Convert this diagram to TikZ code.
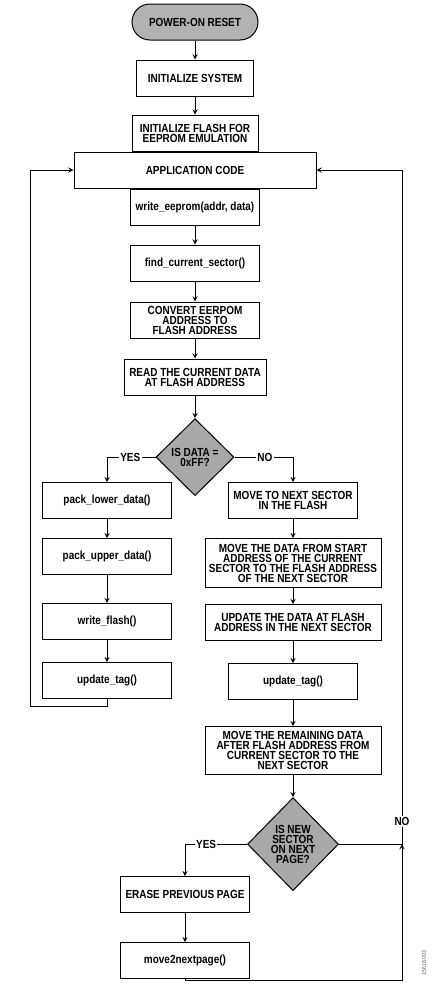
\documentclass[tikz,border=0pt]{standalone}
\usepackage{fontspec}
\setmainfont{Liberation Sans}[FakeStretch=0.85]
\usetikzlibrary{positioning,shapes.geometric}
\newcommand{\boxfont}{\fontsize{8.8}{7.5}\selectfont\bfseries}

\begin{document}
\begin{tikzpicture}[->,>=stealth,line width=0.75pt,node distance=14.25pt,
    box/.style={rectangle,draw,minimum width=96.75pt,minimum height=27pt,inner sep=2pt,align=center,font=\boxfont},
    wbox/.style={box,minimum width=132pt},
    start/.style={box,minimum width=94.5pt,rounded corners=13.5pt,fill=black!30},
    decision/.style={diamond,draw,fill=black!34,inner sep=0pt,align=center,font=\boxfont,minimum width=58.5pt,minimum height=57.75pt},
    lbl/.style={fill=white,inner sep=1pt,font=\boxfont}]

    \useasboundingbox (0,0) rectangle (326.25pt,-738.75pt);

    % main column
    \node[start] (reset) at (146.25pt,-16.5pt) {POWER-ON RESET};
    \node[box, minimum width=87.75pt] (init) [below=of reset] {INITIALIZE SYSTEM};
    \node[box, minimum width=94.5pt] (flash) [below=13.5pt of init] {INITIALIZE FLASH FOR\\EEPROM EMULATION};
    \node[box, minimum width=181.5pt] (app) [below=0pt of flash] {APPLICATION CODE};
    \node[box] (wee) [below=0pt of app] {write\_eeprom(addr, data)};
    \node[box] (find) [below=of wee] {find\_current\_sector()};
    \node[box] (conv) [below=15pt of find] {CONVERT EERPOM\\ADDRESS TO\\FLASH ADDRESS};
    \node[box, minimum width=106.5pt] (read) [below=15pt of conv] {READ THE CURRENT DATA\\AT FLASH ADDRESS};
    \node[decision] (dia) [below=17pt of read] {IS DATA =\\0xFF?};

    % yes branch
    \node[box] (plow) [below=18.75pt of dia.center, xshift=-66pt] {pack\_lower\_data()};
    \node[box] (pup) [below=of plow] {pack\_upper\_data()};
    \node[box] (wfl) [below=21pt of pup] {write\_flash()};
    \node[box] (utl) [below=16.5pt of wfl] {update\_tag()};

    % no branch
    \node[box] (mns) [below=18.75pt of dia.center, xshift=73.5pt] {MOVE TO NEXT SECTOR\\IN THE FLASH};
    \node[wbox, minimum height=36.75pt] (mdata) [below=of mns] {MOVE THE DATA FROM START\\ADDRESS OF THE CURRENT\\SECTOR TO THE FLASH ADDRESS\\OF THE NEXT SECTOR};
    \node[wbox] (upd) [below=12pt of mdata] {UPDATE THE DATA AT FLASH\\ADDRESS IN THE NEXT SECTOR};
    \node[box] (utr) [below=16.5pt of upd] {update\_tag()};
    \node[wbox, minimum height=36pt] (mrem) [below=19.5pt of utr] {MOVE THE REMAINING DATA\\AFTER FLASH ADDRESS FROM\\CURRENT SECTOR TO THE\\NEXT SECTOR};
    \node[decision, minimum width=68.25pt, minimum height=69.75pt] (dia2) [below=16.5pt of mrem] {IS NEW\\SECTOR\\ON NEXT\\PAGE?};
    \node[box] (erase) [below=24pt of dia2.center, xshift=-81pt] {ERASE PREVIOUS PAGE};
    \node[box] (m2n) [below=21.75pt of erase] {move2nextpage()};

    \node[rotate=90, font=\fontsize{4.5}{5}\selectfont, text=black!60] (fig) at (318pt,-722.25pt) {15618-003};

    \coordinate (lloop) at (22.5pt,-529.5pt);
    \coordinate (rloop) at (301.5pt,-735pt);

    \draw (reset) to (init);
    \draw (init) to (flash);
    \draw (wee) to (find);
    \draw (find) to (conv);
    \draw (conv) to (read);
    \draw (read) to (dia);

    \draw (dia.west) -| node[lbl, pos=0.26]{YES} (plow.north);
    \draw (dia.east) -| node[lbl, pos=0.26]{NO} (mns.north);

    \draw (plow) to (pup);
    \draw (pup) to (wfl);
    \draw (wfl) to (utl);
    \draw (utl.south) |- (lloop) |- (app.west);

    \draw (mns) to (mdata);
    \draw (mdata) to (upd);
    \draw (upd) to (utr);
    \draw (utr) to (mrem);
    \draw (mrem) to (dia2);

    \draw (dia2.west) -| node[lbl, pos=0.33]{YES} (erase.north);
    \draw (erase) to (m2n);
    \draw (m2n.south) |- (rloop) -- (rloop |- dia2.east);
    \draw (dia2.east) -- (dia2.east -| rloop) -- node[lbl, pos=0.033]{NO} (app.east -| rloop) -- (app.east);

\end{tikzpicture}
\end{document}
